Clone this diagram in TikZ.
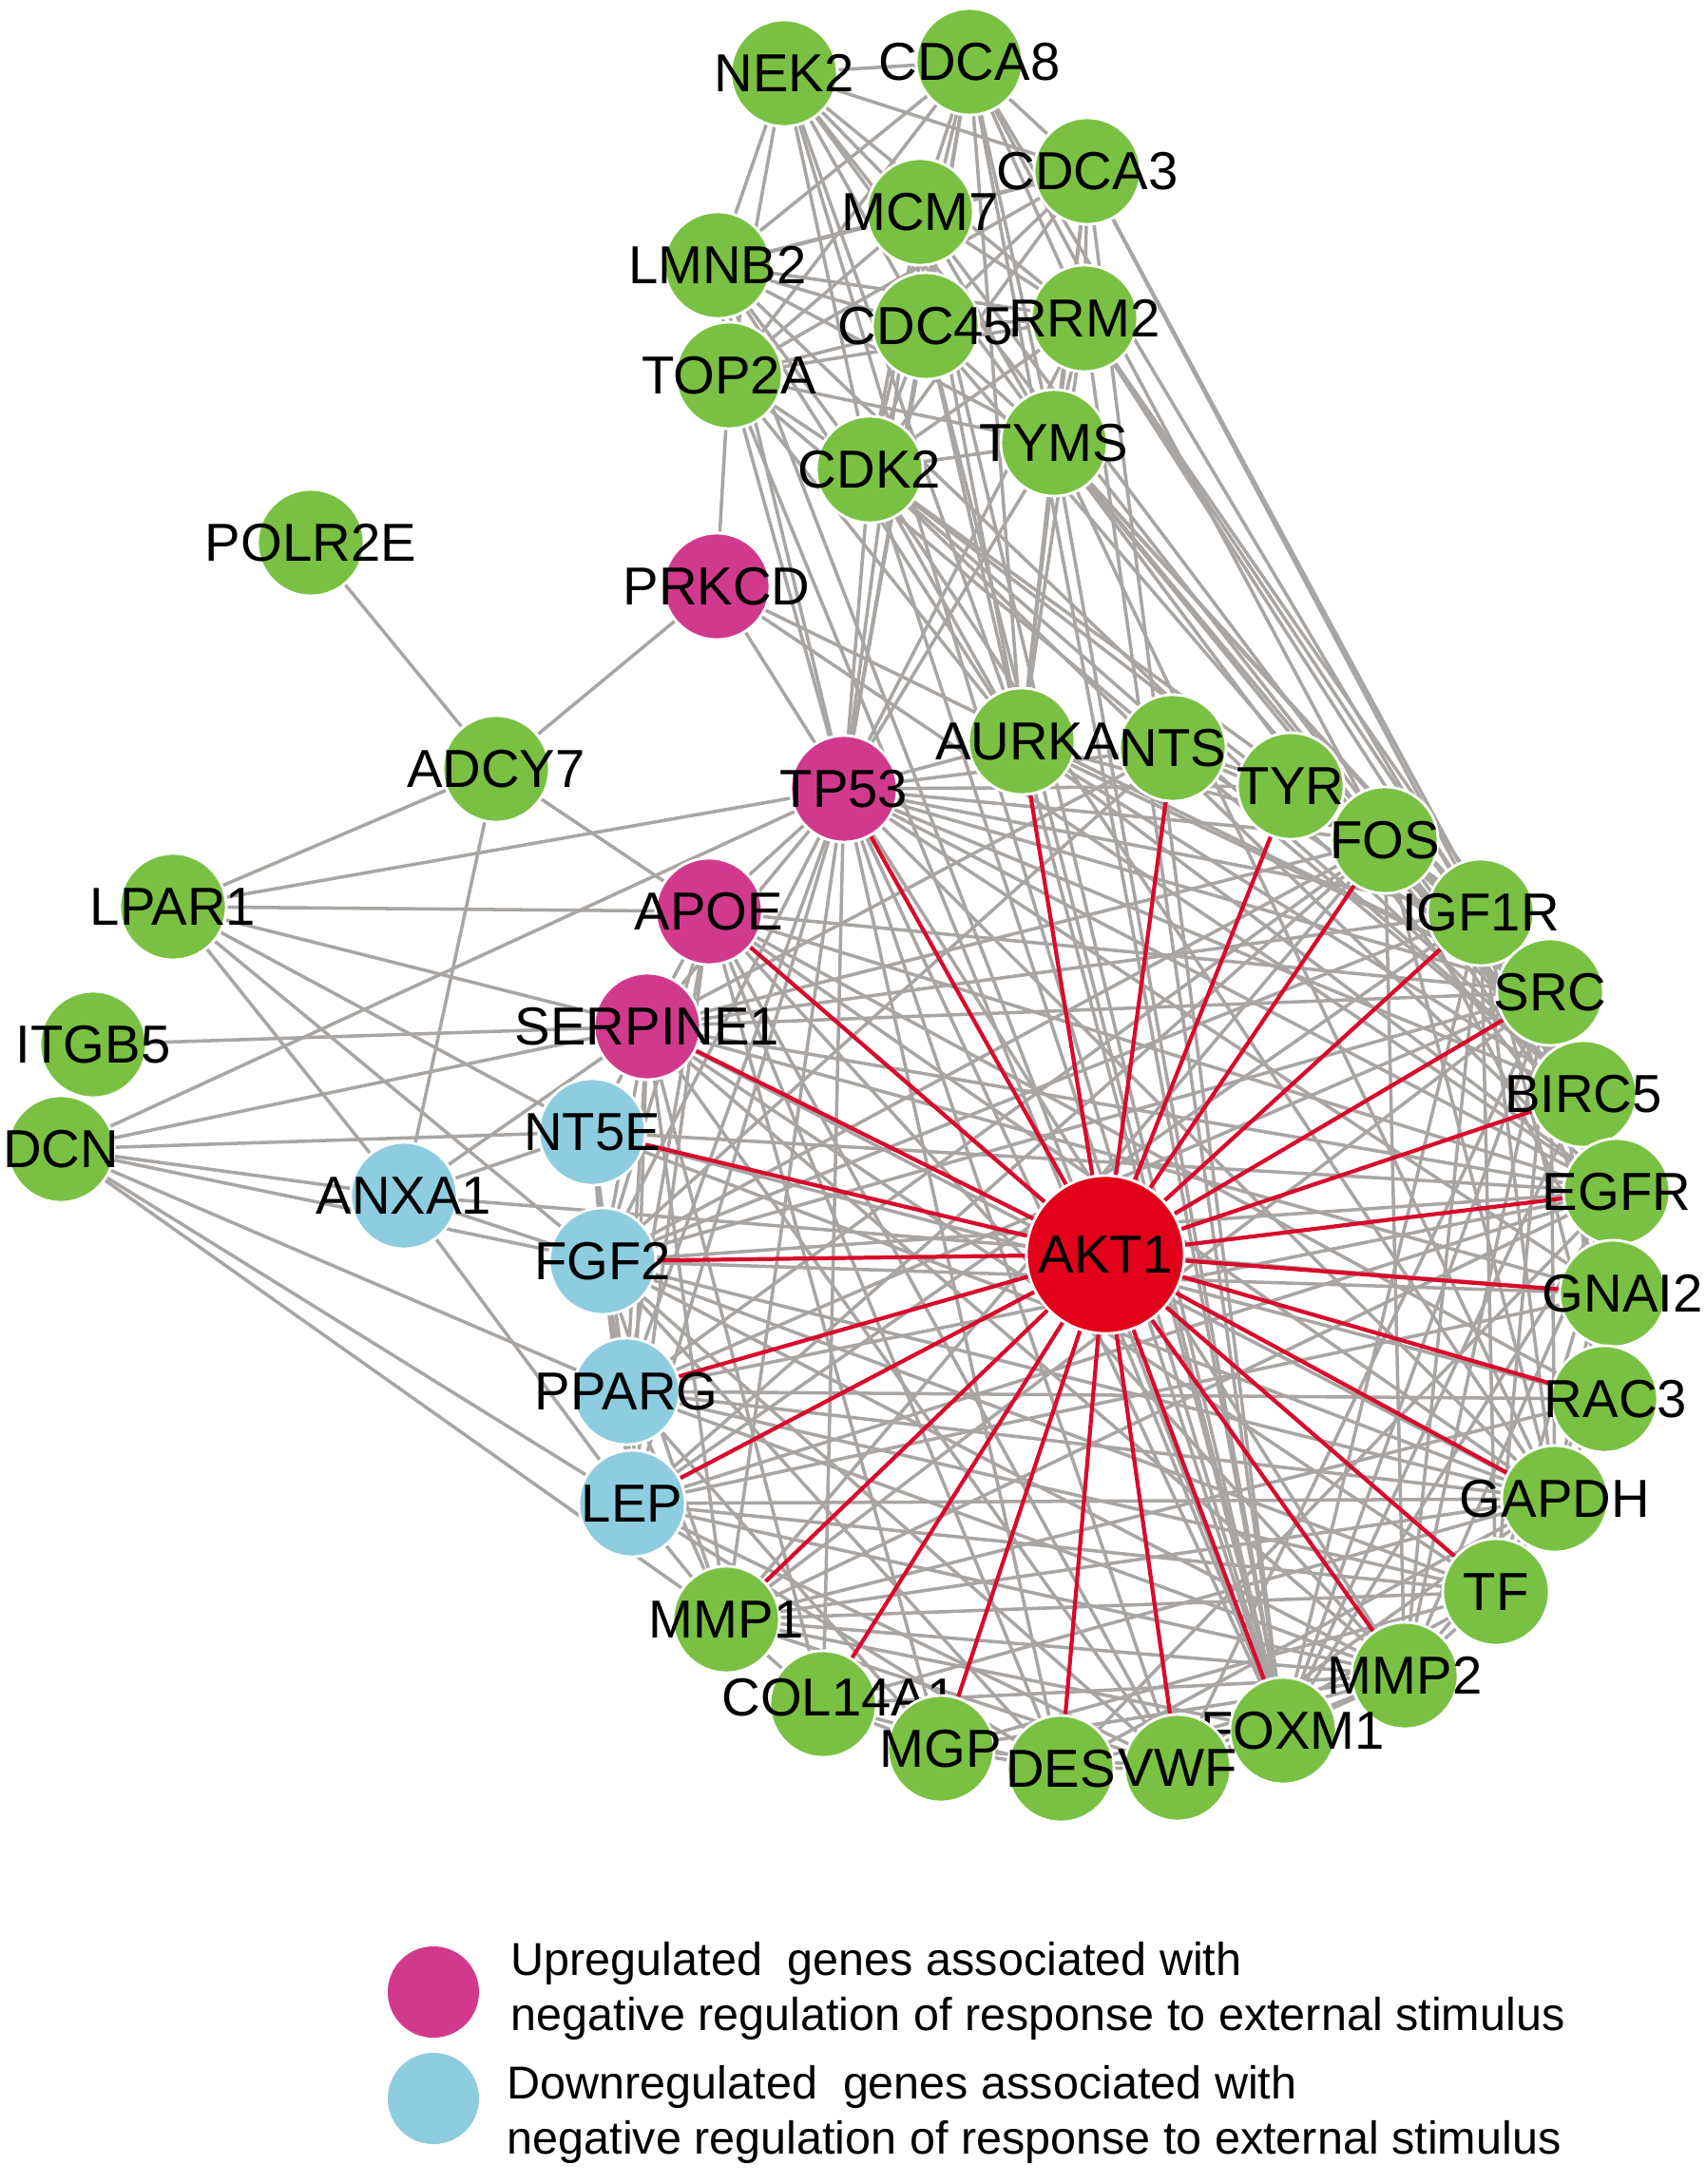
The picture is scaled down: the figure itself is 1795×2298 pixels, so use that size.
\documentclass[tikz,border=0pt]{standalone}
\usepackage{fontspec}
\setmainfont{Liberation Sans}
\pgfdeclarelayer{bg}
\pgfdeclarelayer{edges}
\pgfsetlayers{bg,edges,main}
\definecolor{ngreen}{HTML}{7AC143}
\definecolor{nmag}{HTML}{D13A8C}
\definecolor{nblue}{HTML}{8ECDDF}
\definecolor{nred}{HTML}{E2001A}
\definecolor{egray}{HTML}{A8A5A2}
\definecolor{ered}{HTML}{D90A2C}
\begin{document}
\begin{tikzpicture}[x=0.01cm,y=-0.01cm,
  gn/.style={circle, draw=white, line width=0.8pt, minimum size=1.12cm, inner sep=0pt, fill=ngreen},
  mn/.style={gn, fill=nmag},
  bn/.style={gn, fill=nblue},
  rn/.style={gn, fill=nred, minimum size=1.66cm},
  lab/.style={font=\fontsize{16}{16}\selectfont, inner sep=0pt, text=black},
  ge/.style={draw=egray, line width=1pt},
  re/.style={draw=ered, line width=1.2pt},
  legtext/.style={font=\fontsize{13.8}{14}\selectfont, inner sep=0pt, anchor=base west},
  legdot/.style={circle, minimum size=0.96cm, inner sep=0pt},
]
\begin{pgfonlayer}{bg}
\fill[white] (0,0) rectangle (1795,2298);
\end{pgfonlayer}
\useasboundingbox (0,0) rectangle (1795,2298);

% ---- nodes ----
\node[gn, label={[lab]center:NEK2}] (nek2) at (825,77) {};
\node[gn, label={[lab]center:CDCA8}] (cdca8) at (1020,65) {};
\node[gn, label={[lab]center:CDCA3}] (cdca3) at (1144,180) {};
\node[gn, label={[lab]center:MCM7}] (mcm7) at (968,223) {};
\node[gn, label={[lab]center:LMNB2}] (lmnb2) at (755,279) {};
\node[gn, label={[lab]center:CDC45}] (cdc45) at (974,343) {};
\node[gn, label={[lab]center:RRM2}] (rrm2) at (1141,335) {};
\node[gn, label={[lab]center:TOP2A}] (top2a) at (767,395) {};
\node[gn, label={[lab]center:TYMS}] (tyms) at (1109,466) {};
\node[gn, label={[lab]center:CDK2}] (cdk2) at (915,494) {};
\node[gn, label={[lab]center:POLR2E}] (polr2e) at (327,571) {};
\node[mn, label={[lab]center:PRKCD}] (prkcd) at (754,617) {};
\node[gn, label={[lab]center:ADCY7}] (adcy7) at (522,809) {};
\node[mn, label={[lab]center:TP53}] (tp53) at (888,830) {};
\node[gn, label={[lab, xshift=0.06cm]center:AURKA}] (aurka) at (1075,780) {};
\node[gn, label={[lab]center:NTS}] (nts) at (1234,787) {};
\node[gn, label={[lab]center:TYR}] (tyr) at (1358,827) {};
\node[gn, label={[lab]center:FOS}] (fos) at (1457,884) {};
\node[gn, label={[lab]center:IGF1R}] (igf1r) at (1558,960) {};
\node[gn, label={[lab]center:LPAR1}] (lpar1) at (182,954) {};
\node[mn, label={[lab]center:APOE}] (apoe) at (746,959) {};
\node[gn, label={[lab]center:SRC}] (src) at (1631,1044) {};
\node[gn, label={[lab]center:ITGB5}] (itgb5) at (98,1099) {};
\node[mn, label={[lab]center:SERPINE1}] (serpine1) at (681,1080) {};
\node[gn, label={[lab]center:BIRC5}] (birc5) at (1666,1151) {};
\node[gn, label={[lab]center:DCN}] (dcn) at (64,1209) {};
\node[bn, label={[lab]center:NT5E}] (nt5e) at (623,1191) {};
\node[bn, label={[lab]center:ANXA1}] (anxa1) at (425,1258) {};
\node[gn, label={[lab]center:EGFR}] (egfr) at (1701,1254) {};
\node[rn, label={[lab]center:AKT1}] (akt1) at (1163,1320) {};
\node[bn, label={[lab]center:FGF2}] (fgf2) at (634,1327) {};
\node[gn, label={[lab, xshift=0.1cm]center:GNAI2}] (gnai2) at (1697,1361) {};
\node[bn, label={[lab]center:PPARG}] (pparg) at (659,1464) {};
\node[gn, label={[lab, xshift=0.12cm]center:RAC3}] (rac3) at (1688,1472) {};
\node[bn, label={[lab]center:LEP}] (lep) at (665,1582) {};
\node[gn, label={[lab]center:GAPDH}] (gapdh) at (1636,1577) {};
\node[gn, label={[lab]center:TF}] (tf) at (1574,1675) {};
\node[gn, label={[lab]center:MMP1}] (mmp1) at (764,1704) {};
\node[gn, label={[lab]center:MMP2}] (mmp2) at (1478,1763) {};
\node[gn, label={[lab, xshift=0.17cm, yshift=0.07cm]center:COL14A1}] (col14a1) at (866,1793) {};
\node[gn, label={[lab, xshift=0.1cm]center:FOXM1}] (foxm1) at (1350,1821) {};
\node[gn, label={[lab]center:MGP}] (mgp) at (990,1840) {};
\node[gn, label={[lab]center:DES}] (des) at (1116,1861) {};
\node[gn, label={[lab]center:VWF}] (vwf) at (1239,1860) {};

% ---- edges ----
\begin{pgfonlayer}{edges}
% cell-cycle cluster
\foreach \a/\b in {nek2/cdca8, nek2/cdca3, nek2/mcm7, nek2/lmnb2, nek2/cdc45, nek2/rrm2, nek2/top2a, nek2/tyms, nek2/cdk2,
  cdca8/cdca3, cdca8/mcm7, cdca8/lmnb2, cdca8/cdc45, cdca8/rrm2, cdca8/top2a, cdca8/tyms, cdca8/cdk2,
  cdca3/mcm7, cdca3/lmnb2, cdca3/cdc45, cdca3/rrm2, cdca3/top2a, cdca3/tyms, cdca3/cdk2,
  mcm7/lmnb2, mcm7/cdc45, mcm7/rrm2, mcm7/top2a, mcm7/tyms, mcm7/cdk2,
  lmnb2/cdc45, lmnb2/rrm2, lmnb2/top2a, lmnb2/tyms, lmnb2/cdk2,
  cdc45/rrm2, cdc45/top2a, cdc45/tyms, cdc45/cdk2,
  rrm2/top2a, rrm2/tyms, rrm2/cdk2, top2a/tyms, top2a/cdk2, tyms/cdk2}
  \draw[ge] (\a) -- (\b);
\foreach \a in {nek2, cdca8, cdca3, mcm7, lmnb2, cdc45, rrm2, top2a, tyms, cdk2}
  {\draw[ge] (\a) -- (aurka); \draw[ge] (\a) -- (birc5); \draw[ge] (\a) -- (foxm1);}
\foreach \a/\b in {tp53/cdk2, tp53/top2a, tp53/rrm2, tp53/mcm7, tp53/cdc45, tp53/tyms, tp53/cdca8, tp53/lmnb2,
  tyms/fos, tyms/igf1r, tyms/src, tyms/egfr, tyms/gapdh, rrm2/igf1r, rrm2/src, cdca3/igf1r, cdca8/fos,
  cdk2/src, cdk2/egfr, cdk2/igf1r, cdk2/gapdh,
  prkcd/top2a, prkcd/adcy7, prkcd/tp53, prkcd/src, prkcd/egfr,
  polr2e/adcy7, adcy7/lpar1, adcy7/apoe, adcy7/anxa1,
  lpar1/tp53, lpar1/apoe, lpar1/serpine1, lpar1/fgf2, lpar1/anxa1, lpar1/nt5e,
  itgb5/serpine1, dcn/tp53, dcn/serpine1, dcn/nt5e, dcn/anxa1, dcn/fgf2, dcn/pparg, dcn/lep, dcn/mmp1,
  anxa1/nt5e, anxa1/serpine1, anxa1/fgf2, anxa1/lep, anxa1/gnai2}
  \draw[ge] (\a) -- (\b);
% ring of AKT1 partners
\foreach \a/\b in {tp53/apoe, tp53/serpine1, tp53/fgf2, tp53/pparg, tp53/lep, tp53/mmp1, tp53/mmp2, tp53/vwf,
  tp53/gapdh, tp53/egfr, tp53/src, tp53/igf1r, tp53/fos, tp53/aurka, tp53/birc5, tp53/foxm1, tp53/nts, tp53/tyr,
  tp53/gnai2, tp53/col14a1, tp53/des,
  apoe/serpine1, apoe/pparg, apoe/lep, apoe/fgf2, apoe/mmp2, apoe/vwf, apoe/tf, apoe/gapdh, apoe/egfr, apoe/mgp,
  apoe/des, apoe/rac3, apoe/src,
  serpine1/fgf2, serpine1/pparg, serpine1/lep, serpine1/mmp1, serpine1/mmp2, serpine1/vwf, serpine1/tf,
  serpine1/egfr, serpine1/src, serpine1/igf1r, serpine1/fos, serpine1/gapdh, serpine1/nt5e, serpine1/col14a1,
  serpine1/gnai2,
  nt5e/pparg, nt5e/lep, nt5e/egfr, nt5e/gapdh, nt5e/rac3, nt5e/fgf2,
  fgf2/pparg, fgf2/lep, fgf2/mmp1, fgf2/mmp2, fgf2/vwf, fgf2/egfr, fgf2/src, fgf2/igf1r, fgf2/fos, fgf2/gapdh,
  fgf2/des, fgf2/gnai2, fgf2/tf,
  pparg/lep, pparg/mmp1, pparg/mmp2, pparg/egfr, pparg/fos, pparg/gapdh, pparg/tf, pparg/src, pparg/rac3, pparg/mgp,
  lep/mmp1, lep/mmp2, lep/tf, lep/gapdh, lep/vwf, lep/egfr, lep/igf1r, lep/fos, lep/gnai2, lep/des,
  mmp1/mmp2, mmp1/fos, mmp1/egfr, mmp1/src, mmp1/gapdh, mmp1/tf, mmp1/col14a1, mmp1/vwf, mmp1/foxm1, mmp1/rac3,
  col14a1/mgp, col14a1/des, col14a1/mmp2, col14a1/gapdh,
  mgp/des, mgp/vwf, mgp/mmp2, mgp/tf, des/vwf, des/gapdh, des/mmp2, des/egfr,
  vwf/mmp2, vwf/tf, vwf/gapdh, vwf/src, vwf/foxm1,
  foxm1/birc5, foxm1/aurka, foxm1/mmp2, foxm1/egfr, foxm1/igf1r, foxm1/src,
  mmp2/tf, mmp2/gapdh, mmp2/egfr, mmp2/src, mmp2/igf1r, mmp2/fos,
  tf/gapdh, tf/egfr, tf/igf1r, tf/src,
  gapdh/egfr, gapdh/src, gapdh/fos, gapdh/igf1r, gapdh/rac3, gapdh/gnai2,
  rac3/src, rac3/egfr, rac3/gnai2, rac3/igf1r,
  gnai2/src, gnai2/egfr, gnai2/igf1r, gnai2/fos,
  egfr/src, egfr/igf1r, egfr/fos, egfr/birc5, birc5/aurka, birc5/src,
  src/igf1r, src/fos, src/tyr, src/nts, igf1r/fos, igf1r/tyr, fos/tyr, fos/nts, fos/aurka, tyr/nts,
  nts/fgf2, nts/serpine1, aurka/egfr, aurka/src}
  \draw[ge] (\a) -- (\b);
% AKT1 edges
\foreach \b in {tp53, apoe, serpine1, nt5e, fgf2, pparg, lep, mmp1, col14a1, mgp, des, vwf, foxm1, mmp2, tf,
  gapdh, rac3, gnai2, egfr, birc5, src, igf1r, fos, tyr, nts, aurka}
  \draw[re] (akt1) -- (\b);
\end{pgfonlayer}

% ---- legend ----
\node[legdot, fill=nmag] (legup) at (456,2096) {};
\node[legdot, fill=nblue] (legdown) at (456,2208) {};
\node[legtext] (lt1) at (537,2078) {Upregulated\ \ genes associated with};
\node[legtext] (lt2) at (537,2136) {negative regulation of response to external stimulus};
\node[legtext] (lt3) at (533,2208) {Downregulated\ \ genes associated with};
\node[legtext] (lt4) at (533,2266) {negative regulation of response to external stimulus};
\end{tikzpicture}
\end{document}
